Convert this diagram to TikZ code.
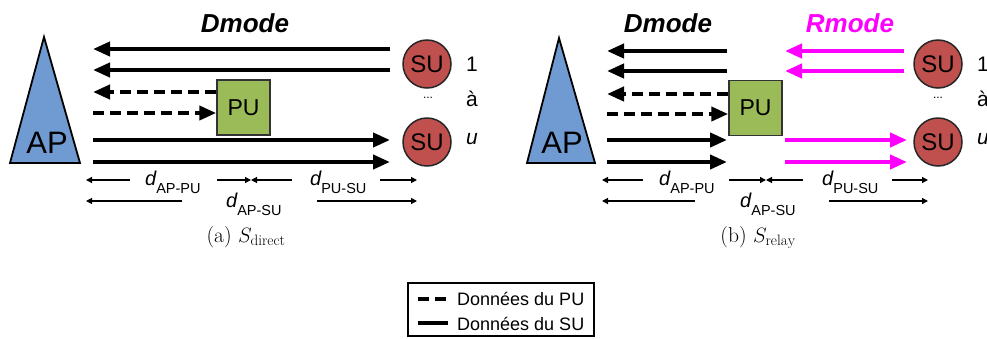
\documentclass[tikz,border=0pt]{standalone}
\usepackage{fontspec}
\newfontfamily\arial{Liberation Sans}
\usetikzlibrary{arrows.meta}
\definecolor{apblue}{RGB}{112,155,210}
\definecolor{pugreen}{RGB}{155,187,89}
\definecolor{sured}{RGB}{192,80,77}
\definecolor{relaymag}{RGB}{255,0,255}
\begin{document}
\begin{tikzpicture}[x=1pt,y=-1pt,
  data/.style={line width=4pt,-{Triangle[length=17pt,width=14pt]}},
  pudata/.style={data,dash pattern=on 11pt off 6pt},
  relay/.style={data,relaymag},
  dim/.style={line width=1.2pt,-{Triangle[length=6pt,width=6pt]}},
  apshape/.style={fill=apblue,draw=black,line width=1.8pt,line join=miter},
  pubox/.style={fill=pugreen,draw=black!80,line width=1.5pt,minimum width=53pt,minimum height=55pt,inner sep=0pt,font=\arial\fontsize{23}{23}\selectfont},
  sunode/.style={circle,fill=sured,draw=black!85,line width=1.5pt,minimum size=48pt,inner sep=0pt,font=\arial\fontsize{24}{24}\selectfont},
  modelabel/.style={font=\arial\bfseries\itshape\fontsize{26}{26}\selectfont,anchor=base},
  idx/.style={font=\arial\fontsize{21}{21}\selectfont,anchor=base west,inner sep=0pt},
  dlabel/.style={anchor=base west,inner sep=0pt},
  caption/.style={font=\fontsize{21.5}{25}\selectfont,anchor=base}]
\newcommand{\dlab}[1]{{\arial\itshape\fontsize{20}{20}\selectfont d}\raisebox{-8pt}{\arial\fontsize{14.5}{14.5}\selectfont #1}}
\useasboundingbox (0,0) rectangle (987,338);
\clip (0,0) rectangle (987,338);

% ---------------- panel (a) ----------------
\draw[apshape] (44,37) -- (80,163) -- (10,163) -- cycle;
\node[font=\arial\fontsize{31}{31}\selectfont,inner sep=0pt] (APa) at (47,143) {AP};
\node[pubox] (PUa) at (243.5,107.5) {PU};
\node[sunode] (SU1a) at (427,64) {SU};
\node[sunode] (SU2a) at (427,142) {SU};
\node[idx] (i1a) at (466,71) {1};
\node[idx] (i2a) at (466,106) {à};
\node[idx] (i3a) at (466,144) {\itshape u};
\node[font=\arial\fontsize{12}{12}\selectfont,inner sep=0pt] (dotsa) at (428,98) {...};
\node[modelabel] (Dmodea) at (245,32) {Dmode};

\draw[data] (390,49) -- (93,49);
\draw[data] (390,70) -- (93,70);
\draw[pudata] (PUa.west |- 0,92) -- (93,92);
\draw[pudata] (93,113) -- (PUa.west |- 0,113);
\draw[data] (93,140) -- (390,140);
\draw[data] (93,162) -- (390,162);

\coordinate (mida) at (251,180);
\draw[dim] (130,180) -- (86,180);
\draw[dim] (217,180) -- (mida);
\draw[dim] (292,180) -- (mida);
\draw[dim] (380,180) -- (417,180);
\draw[dim] (182,201) -- (86,201);
\draw[dim] (317,201) -- (417,201);
\node[dlabel] (d1a) at (145,185) {\dlab{AP-PU}};
\node[dlabel] (d2a) at (310,185) {\dlab{PU-SU}};
\node[dlabel] (d3a) at (226,207) {\dlab{AP-SU}};
\node[caption] (capa) at (246,242) {(a) $S_{\mathrm{direct}}$};

% ---------------- panel (b) ----------------
\draw[apshape] (559,38) -- (595,163) -- (527,163) -- cycle;
\node[font=\arial\fontsize{31}{31}\selectfont,inner sep=0pt] (APb) at (562,143) {AP};
\node[pubox] (PUb) at (755.5,108) {PU};
\node[sunode] (SU1b) at (938,64) {SU};
\node[sunode] (SU2b) at (938,142) {SU};
\node[idx] (i1b) at (977,71) {1};
\node[idx] (i2b) at (977,106) {à};
\node[idx] (i3b) at (977,144) {\itshape u};
\node[font=\arial\fontsize{12}{12}\selectfont,inner sep=0pt] (dotsb) at (938,98) {...};
\node[modelabel] (Dmodeb) at (668,32) {Dmode};
\node[modelabel,text=relaymag] (Rmodeb) at (850,32) {Rmode};

\draw[data] (727,51) -- (607,51);
\draw[data] (727,71) -- (607,71);
\draw[pudata] (PUb.west |- 0,94) -- (607,94);
\draw[pudata] (607,114) -- (PUb.west |- 0,114);
\draw[data] (607,140) -- (727,140);
\draw[data] (607,162) -- (727,162);
\draw[relay] (904,51) -- (785,51);
\draw[relay] (904,71) -- (785,71);
\draw[relay] (785,140) -- (907,140);
\draw[relay] (785,162) -- (907,162);

\coordinate (midb) at (766,180);
\draw[dim] (643,180) -- (602,180);
\draw[dim] (729,180) -- (midb);
\draw[dim] (803,180) -- (midb);
\draw[dim] (892,180) -- (928,180);
\draw[dim] (695,201) -- (602,201);
\draw[dim] (829,201) -- (928,201);
\node[dlabel] (d1b) at (659,185) {\dlab{AP-PU}};
\node[dlabel] (d2b) at (822,185) {\dlab{PU-SU}};
\node[dlabel] (d3b) at (740,207) {\dlab{AP-SU}};
\node[caption] (capb) at (758,242) {(b) $S_{\mathrm{relay}}$};

% ---------------- legend ----------------
\node[draw=black,line width=1.2pt,minimum width=186pt,minimum height=53pt,inner sep=0pt] (legend) at (501,309.5) {};
\draw[line width=4pt,dash pattern=on 11pt off 6pt] (418,299) -- (448,299);
\draw[line width=4pt] (418,323) -- (448,323);
\node[anchor=base west,inner sep=0pt,font=\arial\fontsize{18}{18}\selectfont] (leg1) at (457,305) {Données du PU};
\node[anchor=base west,inner sep=0pt,font=\arial\fontsize{18}{18}\selectfont] (leg2) at (457,330) {Données du SU};
\end{tikzpicture}
\end{document}
